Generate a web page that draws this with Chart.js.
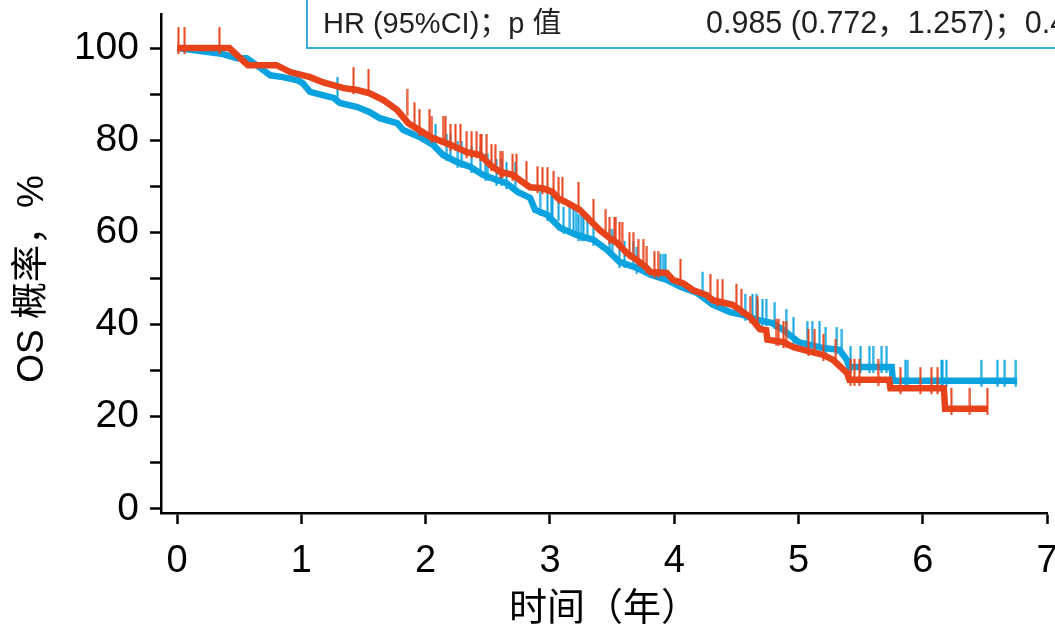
<!DOCTYPE html>
<html lang="zh">
<head>
<meta charset="utf-8">
<title>OS 概率</title>
<script src="https://cdn.jsdelivr.net/npm/chart.js@4.4.1/dist/chart.umd.min.js"></script>
<style>
  html, body { margin: 0; padding: 0; background: #fff; overflow: hidden; }
  #wrap { position: relative; width: 1055px; height: 625px; overflow: hidden; }
  #os { position: absolute; left: 0; top: -30px; }
</style>
</head>
<body>
<div id="wrap"><canvas id="os" width="1080" height="655"></canvas></div>
<script>
// time in years, survival in %
var redTime = [0, 0.42, 0.48, 0.57, 0.80, 0.91, 1.07, 1.17, 1.34, 1.45, 1.55, 1.66, 1.77, 1.86, 1.95, 2.04, 2.20, 2.33, 2.44, 2.52, 2.60, 2.70, 2.78, 2.84, 2.94, 3.02, 3.06, 3.14, 3.24, 3.32, 3.40, 3.48, 3.54, 3.62, 3.70, 3.77, 3.81, 3.94, 3.99, 4.07, 4.15, 4.26, 4.31, 4.47, 4.53, 4.61, 4.69, 4.74, 4.75, 4.88, 4.96, 5.04, 5.20, 5.28, 5.39, 5.41, 5.73, 5.74, 6.17, 6.18, 6.52];
var redSurv = [100, 100, 98.5, 96.3, 96.3, 94.8, 93.7, 92.6, 91.3, 90.9, 90.2, 88.7, 86.6, 83.7, 82.2, 80.7, 79.0, 77.4, 76.8, 74.6, 73.1, 72.5, 70.9, 69.8, 69.6, 68.8, 67.5, 66.4, 64.9, 62.7, 60.5, 58.8, 57.7, 55.5, 54.0, 52.5, 51.4, 51.2, 49.7, 49.0, 47.5, 46.4, 45.3, 44.3, 43.2, 41.6, 39.0, 38.8, 36.7, 36.2, 35.1, 34.5, 33.4, 32.3, 29.5, 28.0, 28.0, 26.2, 26.2, 21.7, 21.7];

var blueTime = [0, 0.37, 0.48, 0.56, 0.64, 0.75, 0.85, 0.97, 1.01, 1.07, 1.17, 1.26, 1.31, 1.45, 1.55, 1.63, 1.77, 1.82, 1.95, 2.06, 2.14, 2.25, 2.36, 2.46, 2.57, 2.65, 2.74, 2.84, 2.88, 2.98, 3.08, 3.22, 3.35, 3.46, 3.56, 3.70, 3.81, 3.94, 4.05, 4.18, 4.31, 4.45, 4.55, 4.67, 4.79, 4.88, 4.96, 5.00, 5.20, 5.33, 5.39, 5.41, 5.75, 5.76, 6.76];
var blueSurv = [100, 98.7, 97.8, 97.8, 96.3, 94.1, 93.7, 93.0, 92.4, 90.5, 89.8, 89.2, 88.1, 87.2, 86.1, 84.8, 83.7, 82.2, 80.7, 79.0, 76.8, 75.3, 74.2, 72.5, 71.4, 70.7, 68.8, 67.5, 64.9, 63.8, 61.0, 59.4, 58.4, 56.2, 53.6, 52.3, 50.8, 49.7, 48.2, 46.9, 44.3, 42.7, 42.1, 41.0, 40.3, 38.8, 37.1, 36.2, 34.9, 34.5, 32.3, 30.8, 30.8, 27.8, 27.8];

// censoring times
var redCensor = [0.01, 0.06, 0.34, 1.42, 1.54, 1.85, 1.91, 1.95, 2.03, 2.05, 2.14, 2.16, 2.20, 2.24, 2.28, 2.33, 2.37, 2.41, 2.44, 2.45, 2.49, 2.53, 2.56, 2.60, 2.62, 2.70, 2.73, 2.81, 2.90, 2.94, 2.98, 3.03, 3.07, 3.10, 3.23, 3.35, 3.45, 3.48, 3.52, 3.53, 3.56, 3.58, 3.64, 3.67, 3.71, 3.75, 3.78, 3.84, 3.87, 4.05, 4.29, 4.35, 4.39, 4.50, 4.54, 4.61, 4.67, 4.82, 4.84, 4.88, 4.90, 5.08, 5.13, 5.20, 5.30, 5.42, 5.45, 5.49, 5.64, 5.82, 5.98, 6.07, 6.12, 6.23, 6.38, 6.52];
var blueCensor = [1.29, 2.08, 2.17, 2.20, 2.26, 2.29, 2.37, 2.44, 2.48, 2.50, 2.57, 2.61, 2.65, 2.72, 2.92, 2.98, 3.01, 3.02, 3.07, 3.11, 3.16, 3.19, 3.21, 3.23, 3.25, 3.27, 3.30, 3.35, 3.48, 3.50, 3.56, 3.60, 3.67, 3.70, 3.89, 3.91, 3.93, 4.23, 4.57, 4.63, 4.66, 4.67, 4.71, 4.74, 4.81, 4.90, 4.96, 5.07, 5.11, 5.17, 5.22, 5.31, 5.35, 5.42, 5.50, 5.57, 5.60, 5.67, 5.71, 5.86, 5.88, 6.15, 6.16, 6.19, 6.47, 6.60, 6.66, 6.75];

var xTicks = [0, 1, 2, 3, 4, 5, 6, 7];
var yTicks = [0, 10, 20, 30, 40, 50, 60, 70, 80, 90, 100];

var hrLabel = 'HR (95%CI)；p 值';
var hrValue = '0.985 (0.772，1.257)；0.4';

var RED = '#e8421b';
var BLUE = '#0aa3e0';
var FAMILY = '"Liberation Sans", "Noto Sans CJK SC", sans-serif';

// KM step: value of the last point at or before t
function survAt(ts, ss, t) {
    var v = ss[0];
    for (var i = 0; i < ts.length; i++) {
        if (ts[i] <= t) v = ss[i];
    }
    return v;
}

// a short vertical mark that sticks up from the point
function tickMark(color) {
    var c = document.createElement('canvas');
    c.width = 3;
    c.height = 48;
    var g = c.getContext('2d');
    g.fillStyle = color;
    g.fillRect(0.5, 3, 2, 27);
    return c;
}

function curve(ts, ss, color, order) {
    return {
        data: ts.map((t, i) => ({x: t, y: ss[i]})),
        showLine: true,
        borderColor: color,
        borderWidth: 6.5,
        pointRadius: 0,
        tension: 0,
        order: order
    };
}

function censors(cs, ts, ss, color, order) {
    return {
        data: cs.map(t => ({x: t, y: survAt(ts, ss, t)})),
        showLine: false,
        pointStyle: tickMark(color),
        pointRadius: 3,
        order: order
    };
}

const hrBox = {
    id: 'hrBox',
    afterDraw(chart) {
        const ctx = chart.ctx;
        ctx.save();
        ctx.strokeStyle = '#3aaadd';
        ctx.lineWidth = 2;
        ctx.strokeRect(307, -20, 900, 98);
        ctx.fillStyle = '#222';
        ctx.textBaseline = 'middle';
        ctx.font = '29px ' + FAMILY;
        ctx.fillText(hrLabel, 323, 55);
        ctx.font = '30.5px ' + FAMILY;
        ctx.fillText(hrValue, 706, 55);
        ctx.restore();
    }
};

new Chart('os', {
    type: 'scatter',
    data: {
        datasets: [
            censors(redCensor, redTime, redSurv, RED, 0),
            curve(redTime, redSurv, RED, 1),
            censors(blueCensor, blueTime, blueSurv, BLUE, 2),
            curve(blueTime, blueSurv, BLUE, 3)
        ]
    },
    plugins: [hrBox],
    options: {
        responsive: false,
        animation: false,
        layout: { padding: { top: 44, left: 0, right: 33, bottom: 0 } },
        plugins: {
            legend: { display: false },
            tooltip: { enabled: false }
        },
        scales: {
            x: {
                type: 'linear',
                min: -0.13,
                max: 7,
                afterBuildTicks: s => { s.ticks = xTicks.map(v => ({value: v})); },
                afterFit: s => { s.height = 112; },
                border: { display: true, color: '#000', width: 2.5 },
                grid: { display: true, drawOnChartArea: false, drawTicks: true, tickLength: 11, tickWidth: 2.5, color: '#000', tickColor: '#000' },
                ticks: { color: '#000', font: { size: 38, family: FAMILY }, padding: 15, maxRotation: 0, autoSkip: false },
                title: { display: true, text: '时间（年）', color: '#000', font: { size: 38, family: FAMILY }, padding: { top: 0, bottom: -7 } }
            },
            y: {
                type: 'linear',
                min: -0.9,
                max: 107.4,
                afterBuildTicks: s => { s.ticks = yTicks.map(v => ({value: v})); },
                afterFit: s => { s.width = 161; },
                border: { display: true, color: '#000', width: 2.5 },
                grid: { display: true, drawOnChartArea: false, drawTicks: true, tickLength: 11, tickWidth: 2.5, color: '#000', tickColor: '#000' },
                ticks: {
                    color: '#000',
                    font: { size: 39, family: FAMILY },
                    padding: 11,
                    autoSkip: false,
                    callback: v => (v % 20 === 0 ? v : '')
                },
                title: { display: true, text: 'OS 概率，%   ', color: '#000', font: { size: 37, family: FAMILY }, padding: { top: 11, bottom: 0 } }
            }
        }
    }
});
</script>
</body>
</html>
